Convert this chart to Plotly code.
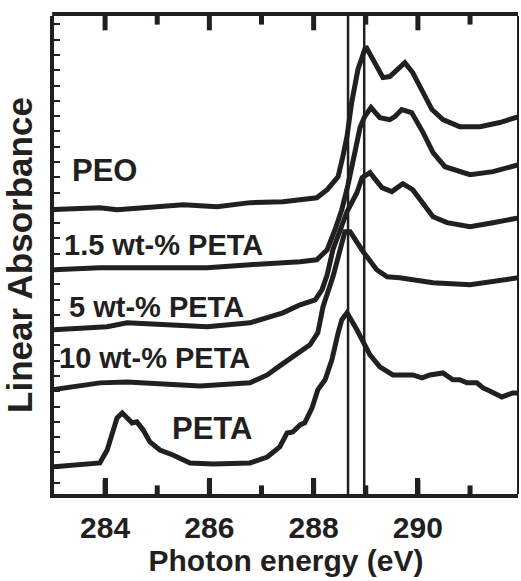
import plotly.graph_objects as go

# Photon energy (eV) and linear absorbance (arbitrary units, offset traces)
peo_x = [282.98, 283.90, 284.23, 285.19, 285.50, 286.15, 286.78, 287.41, 287.83, 288.06,
         288.26, 288.47, 288.56, 288.64, 288.73, 288.85, 289.00, 289.14, 289.33, 289.46,
         289.60, 289.75, 289.90, 290.10, 290.27, 290.48, 290.80, 291.19, 291.57, 291.94]
peo_y = [17.88, 18.01, 17.88, 18.07, 18.20, 18.07, 18.34, 18.40, 18.53, 18.66,
         19.19, 20.04, 21.35, 22.66, 24.89, 27.05, 28.55, 27.70, 26.52, 26.59,
         27.05, 27.50, 26.85, 25.54, 24.43, 23.77, 23.31, 23.31, 23.58, 23.97]

p15_x = [282.98, 283.90, 284.67, 285.96, 286.78, 287.22, 287.74, 288.06, 288.26, 288.41,
         288.54, 288.66, 288.73, 288.81, 288.89, 288.98, 289.10, 289.27, 289.46, 289.56,
         289.69, 289.88, 290.10, 290.29, 290.52, 291.00, 291.44, 291.94]
p15_y = [13.95, 14.08, 14.08, 14.08, 14.28, 14.34, 14.47, 14.60, 15.26, 16.57,
         17.88, 19.52, 20.83, 21.94, 23.25, 23.97, 24.56, 23.90, 23.77, 23.97,
         24.43, 24.23, 22.92, 21.61, 20.69, 20.17, 20.37, 20.83]

p5_x = [282.98, 284.04, 284.42, 285.30, 285.96, 286.78, 287.41, 287.74, 288.03, 288.16,
        288.26, 288.37, 288.50, 288.64, 288.83, 288.93, 289.08, 289.31, 289.50, 289.71,
        289.90, 290.10, 290.29, 290.56, 291.00, 291.44, 291.94]
p5_y = [10.02, 10.22, 10.48, 10.35, 10.22, 10.48, 11.13, 11.66, 11.98, 12.64,
        13.62, 15.26, 16.44, 17.75, 18.99, 19.97, 20.30, 19.32, 19.06, 19.58,
        19.19, 18.34, 17.42, 17.03, 16.76, 17.03, 17.35]

p10_x = [282.98, 283.90, 284.42, 285.19, 285.82, 286.78, 287.11, 287.35, 287.74, 287.93,
         288.08, 288.18, 288.37, 288.54, 288.60, 288.70, 288.95, 289.21, 289.41, 289.65,
         290.29, 291.00, 291.94]
p10_y = [6.09, 6.55, 6.61, 6.48, 6.35, 6.55, 7.07, 7.66, 8.58, 9.04,
         9.82, 11.53, 13.49, 15.46, 16.44, 16.44, 15.13, 13.95, 13.49, 13.43,
         13.10, 12.97, 13.43]

peta_x = [282.98, 283.52, 283.90, 284.04, 284.13, 284.23, 284.33, 284.44, 284.52, 284.61,
          284.73, 284.86, 285.05, 285.30, 285.63, 286.07, 286.78, 287.11, 287.35, 287.49,
          287.60, 287.74, 287.83, 287.97, 288.08, 288.22, 288.35, 288.47, 288.54, 288.64,
          288.83, 289.08, 289.27, 289.52, 289.90, 290.08, 290.23, 290.48, 290.67, 290.80,
          290.94, 291.13, 291.25, 291.38, 291.61, 291.82, 291.94]
peta_y = [1.05, 1.18, 1.31, 2.16, 3.27, 4.26, 4.58, 4.26, 3.93, 4.00,
          3.47, 2.69, 2.16, 1.83, 1.31, 1.24, 1.31, 1.70, 2.36, 3.27,
          3.34, 3.80, 3.93, 4.91, 6.09, 6.75, 8.06, 9.82, 10.67, 11.13,
          10.02, 8.38, 7.60, 7.07, 7.07, 6.88, 7.07, 7.20, 6.75, 6.75,
          6.55, 6.55, 6.22, 6.02, 5.63, 5.89, 5.89]

ref_lines = [288.66, 288.97]

major_ticks = [284, 286, 288, 290]
minor_ticks = [285, 287, 289, 291]

labels = ["PEO", "1.5 wt-% PETA", "5 wt-% PETA", "10 wt-% PETA", "PETA"]
label_x = [283.33, 283.18, 283.27, 283.08, 285.25]
label_y = [20.43, 15.59, 11.53, 8.19, 3.54]
label_size = [31, 29, 29, 29, 31]

INK = "#231f20"
FONT = "Liberation Sans, Arial, Helvetica, sans-serif"
XRANGE = [283.02, 291.92]
MAJOR_FRAC = 0.030   # tick length as a fraction of the plot height
MINOR_FRAC = 0.018

fig = go.Figure()
for xs, ys, name in [(peo_x, peo_y, "PEO"), (p15_x, p15_y, "1.5 wt-% PETA"),
                     (p5_x, p5_y, "5 wt-% PETA"), (p10_x, p10_y, "10 wt-% PETA"),
                     (peta_x, peta_y, "PETA")]:
    fig.add_trace(go.Scatter(x=xs, y=ys, mode="lines", name=name,
                             line=dict(color=INK, width=5), showlegend=False,
                             hoverinfo="skip"))

for xv in ref_lines:
    fig.add_shape(type="line", xref="x", yref="paper", x0=xv, x1=xv, y0=0, y1=1,
                  line=dict(color=INK, width=2.5), layer="above")

# frame: thin right side, thick top side
fig.add_shape(type="line", xref="paper", yref="paper", x0=1, x1=1, y0=0, y1=1,
              line=dict(color=INK, width=2), layer="above")
fig.add_shape(type="line", xref="paper", yref="paper", ysizemode="pixel", yanchor=1,
              x0=-0.004, x1=1, y0=2, y1=2, line=dict(color=INK, width=4), layer="above")

# inside tick marks along the bottom and top frame at the tick values
for vals, frac in [(major_ticks, MAJOR_FRAC), (minor_ticks, MINOR_FRAC)]:
    for v in vals:
        fig.add_shape(type="line", xref="x", yref="paper",
                      x0=v, x1=v, y0=0, y1=frac,
                      line=dict(color=INK, width=5), layer="above")
        fig.add_shape(type="line", xref="x", yref="paper",
                      x0=v, x1=v, y0=1, y1=1 - frac,
                      line=dict(color=INK, width=5), layer="above")

for t, x, y, s in zip(labels, label_x, label_y, label_size):
    fig.add_annotation(x=x, y=y, xref="x", yref="y", text=t, showarrow=False,
                       xanchor="left", yanchor="middle",
                       font=dict(family=FONT, size=s, color=INK, weight="bold"))

fig.update_layout(
    width=521, height=581,
    margin=dict(l=54, r=3, t=16, b=87, autoexpand=False),
    paper_bgcolor="white", plot_bgcolor="white",
    font=dict(family=FONT, color=INK),
    xaxis=dict(range=XRANGE, showgrid=False, zeroline=False, automargin=False,
               showline=True, linewidth=4, linecolor=INK,
               ticks="inside", ticklen=16, tickwidth=5, tickcolor=INK,
               tickmode="array", tickvals=major_ticks,
               ticktext=[str(v) for v in major_ticks],
               tickfont=dict(family=FONT, size=30, color=INK, weight="bold"),
               ticklabelstandoff=4,
               title=dict(text="Photon energy (eV)", standoff=2,
                          font=dict(family=FONT, size=30, color=INK, weight="bold"))),
    yaxis=dict(range=[-0.72, 30.55], showgrid=False, zeroline=False, automargin=False,
               showline=True, linewidth=4, linecolor=INK,
               ticks="inside", ticklen=6, tickwidth=2, tickcolor=INK,
               tick0=0, dtick=1, showticklabels=False,
               title=dict(text="Linear Absorbance", standoff=21,
                          font=dict(family=FONT, size=35, color=INK, weight="bold"))),
)

fig.write_html("out.html", config={"displayModeBar": False},
               post_script="document.body.style.margin='0';")
